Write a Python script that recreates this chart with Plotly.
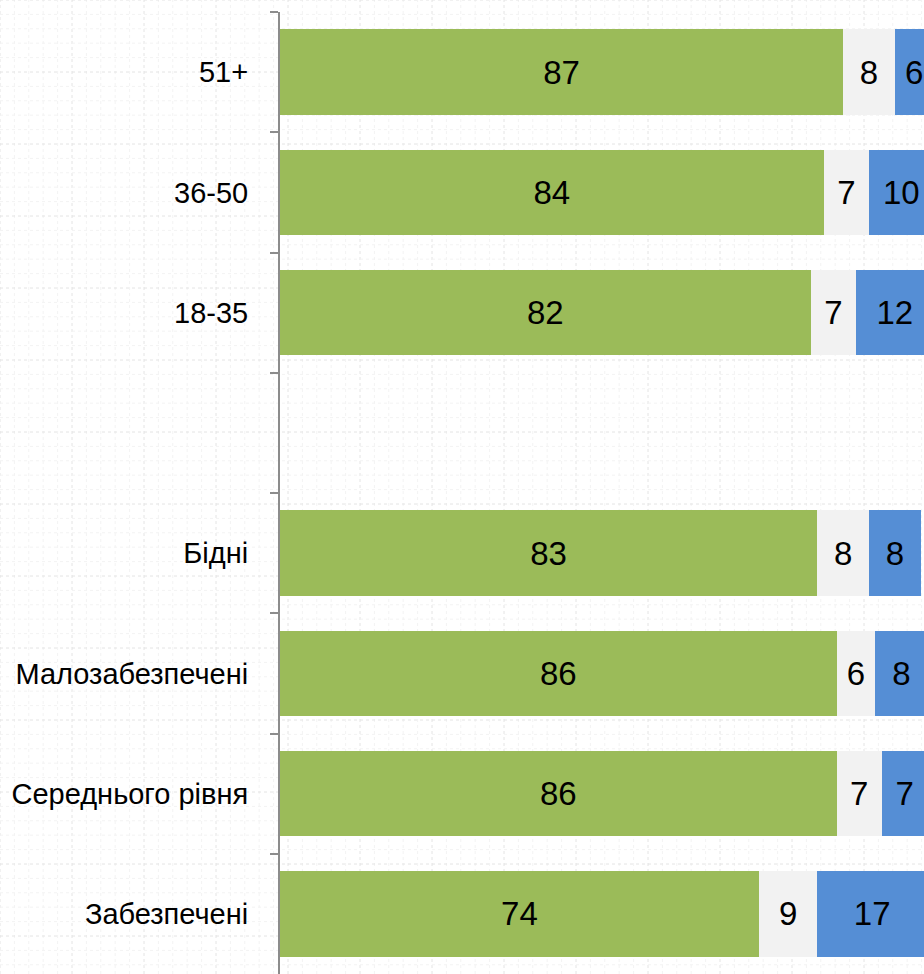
import plotly.graph_objects as go
import numpy as np

categories = ["51+", "36-50", "18-35", " ", "Бідні", "Малозабезпечені", "Середнього рівня", "Забезпечені"]
groups = ["51+", "36-50", "18-35", "Бідні", "Малозабезпечені", "Середнього рівня", "Забезпечені"]
series_green = [87, 84, 82, 83, 86, 86, 74]
series_gray = [8, 7, 7, 8, 6, 7, 9]
series_blue = [6, 10, 12, 8, 8, 7, 17]

FONT = "Liberation Sans Narrow, Arial Narrow, Liberation Sans, Arial, sans-serif"
FS_TICK = 29
FS_LABEL = 33

fig = go.Figure()
for vals, color in [(series_green, "#9BBB59"), (series_gray, "#F2F2F2"), (series_blue, "#558ED5")]:
    fig.add_trace(go.Bar(
        y=groups, x=vals, orientation="h",
        marker=dict(color=color, line=dict(width=0)),
        texttemplate="%{x}", textposition="inside", insidetextanchor="middle",
        textfont=dict(family=FONT, size=FS_LABEL, color="black"),
        constraintext="none", cliponaxis=True, showlegend=False,
        hoverinfo="skip",
    ))

# faint graph-paper background (decoration, in paper coordinates)
W, H = 924, 974
L, T, R, B = 280, 12, 0, 0
PW, PH = W - L - R, H - T - B
shapes = []
for i, px in enumerate(np.arange(0, W + 1, 14.4)):
    c = "#e4e4e4" if i % 5 == 0 else "#f3f3f3"
    xp = (px - L) / PW
    shapes.append(dict(type="line", xref="paper", yref="paper", layer="below",
                       x0=xp, x1=xp, y0=-B / PH, y1=1 + T / PH,
                       line=dict(color=c, width=1, dash="dot")))
for i, py in enumerate(np.arange(0, H + 1, 14.4)):
    c = "#e4e4e4" if i % 5 == 0 else "#f3f3f3"
    yp = 1 - (py - T) / PH
    shapes.append(dict(type="line", xref="paper", yref="paper", layer="below",
                       x0=-L / PW, x1=1 + R / PW, y0=yp, y1=yp,
                       line=dict(color=c, width=1, dash="dot")))

fig.update_layout(
    width=W, height=H,
    margin=dict(l=L, r=R, t=T, b=B),
    barmode="stack", bargap=0.29,
    plot_bgcolor="rgba(0,0,0,0)", paper_bgcolor="white",
    shapes=shapes,
    xaxis=dict(range=[0, 99.5], visible=False, showgrid=False, zeroline=False, automargin=False),
    yaxis=dict(categoryorder="array", categoryarray=categories, autorange="reversed",
               tickson="boundaries", ticks="outside", ticklen=8, tickwidth=2, tickcolor="#8c8c8c",
               showline=True, linecolor="#8c8c8c", linewidth=2, showgrid=False, automargin=False,
               tickfont=dict(family=FONT, size=FS_TICK, color="black"), ticklabelstandoff=24),
    font=dict(family=FONT),
)
fig.write_html("out.html", config={"displayModeBar": False},
               post_script="document.body.style.margin='0';document.documentElement.style.overflow='hidden';")
